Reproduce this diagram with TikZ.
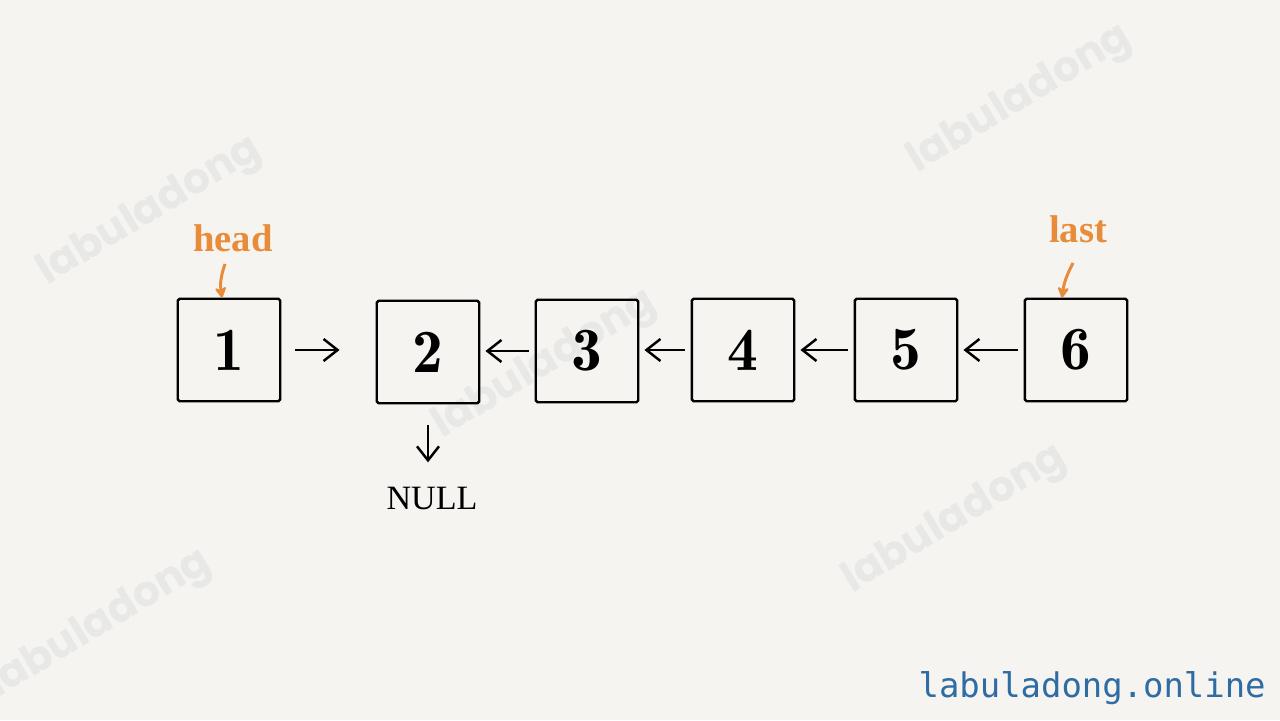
\documentclass[tikz,border=0pt]{standalone}
\usepackage{fontspec}
\usepackage{tikz}
\usepackage{xcolor}
\usetikzlibrary{arrows.meta, positioning, calc}

\newfontfamily\markfont{Poppins}
\newfontfamily\sitefont{DejaVu Sans Mono}
\newfontfamily\labelfont{Liberation Serif}
\newfontfamily\digitfont{lmromandemi10-regular.otf}

\definecolor{paper}{RGB}{245,244,241}
\definecolor{wmark}{RGB}{232,232,230}
\definecolor{ptrorange}{RGB}{232,140,58}
\definecolor{siteblue}{RGB}{46,108,163}

\tikzset{
  box/.style={draw=black, line width=1.4pt, rounded corners=1pt, minimum size=2.05cm, inner sep=0pt, font=\digitfont\fontsize{35}{40}\selectfont},
  link/.style={line width=1.4pt, -{Straight Barb[length=0.28cm, width=0.44cm, line width=1.4pt]}},
  ptr/.style={draw=ptrorange, line width=1.7pt, -{Stealth[length=0.26cm, width=0.28cm, round]}},
  ptrlabel/.style={text=ptrorange, inner sep=0pt, font=\labelfont\bfseries\fontsize{22}{26}\selectfont},
  wm/.style={text=wmark, rotate=31, font=\markfont\bfseries\fontsize{24}{28}\selectfont}
}

\begin{document}
\begin{tikzpicture}[x=0.02cm, y=-0.02cm]
% Canvas
\fill[paper] (0,0) rectangle (1280,720);
\useasboundingbox (0,0) rectangle (1280,720);

% Watermarks
\foreach \wx/\wy in {150/212, 1020/100, 545/365, 955/520, 100/625} {
  \node[wm] at (\wx,\wy) {labuladong};
}

% List nodes
\foreach \n/\x/\y in {1/229/350, 2/428/352, 3/587/351, 4/743/350, 5/906/350, 6/1076/350} {
  \node[box] (b\n) at (\x,\y) {\n};
}

% Links: 1 -> 2, then reversed part
\draw[link, shorten <=0.28cm, shorten >=0.72cm] (b1.east) -- (b2.west |- b1.east);
\foreach \a/\b in {2/3, 3/4, 4/5, 5/6} {
  \draw[link, shorten <=0.12cm, shorten >=0.1cm] (b\b.west) -- (b\a.east |- b\b.west);
}

% 2 points to NULL
\node[inner sep=0pt, font=\labelfont\fontsize{19.4}{22}\selectfont] (null) at (432,498) {NULL};
\draw[link, shorten <=0.42cm, shorten >=0.48cm] (b2.south) -- (b2.south |- null.north);

% Pointers head / last
\node[ptrlabel] (head) at (233,238) {head};
\node[ptrlabel] (last) at (1078,229) {last};
\draw[ptr] ([xshift=-0.16cm, yshift=-0.24cm]head.south) to[bend right=14] ([xshift=-0.14cm]b1.north);
\draw[ptr] ([xshift=-0.1cm, yshift=-0.4cm]last.south) to[bend right=10] ([xshift=-0.28cm]b6.north);

% Site name
\node[text=siteblue, anchor=east, inner sep=0pt, font=\sitefont\fontsize{19.3}{22}\selectfont] (site) at (1266,688) {labuladong.online};
\end{tikzpicture}
\end{document}
